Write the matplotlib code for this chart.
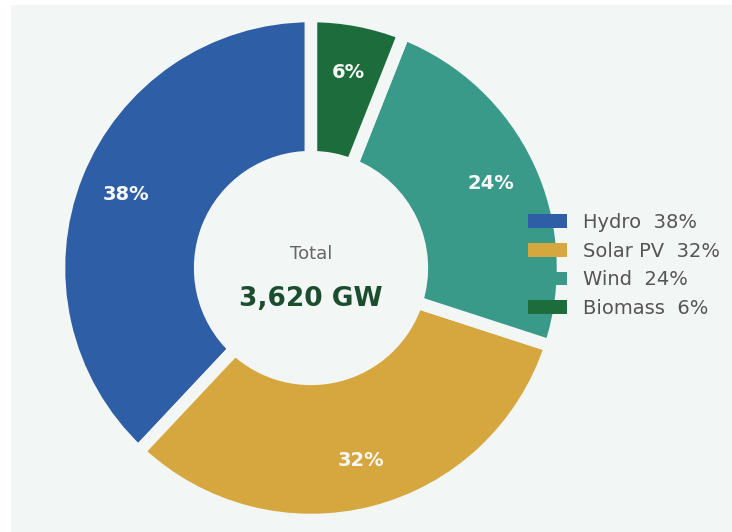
import matplotlib.pyplot as plt
from matplotlib.patches import Rectangle

sources = ["Hydro", "Solar PV", "Wind", "Biomass"]
shares = [38, 32, 24, 6]
colors = ["#2e5ea5", "#d6a73f", "#3a9a89", "#1c6c3c"]
total_label = "3,620 GW"

bg = "#f2f6f4"

fig = plt.figure(figsize=(7.32, 5.32), dpi=100, facecolor="white")
# light panel behind the chart (thin white strip on left and top)
fig.patches.append(Rectangle((11 / 732, 0), 1, (532 - 5) / 532, transform=fig.transFigure,
                             facecolor=bg, edgecolor="none", zorder=-1))

cx, cy, r = 311, 532 - 268, 252
ax = fig.add_axes([(cx - r) / 732, (cy - r) / 532, 2 * r / 732, 2 * r / 532])
ax.set_facecolor("none")
ax.set_zorder(1)

# gaps between slices come from thick edges in the background colour
wedges, texts, autotexts = ax.pie(shares, colors=colors, startangle=90, counterclock=True,
                                  autopct="%d%%", pctdistance=0.79,
                                  wedgeprops=dict(width=0.56, edgecolor=bg, linewidth=9),
                                  textprops=dict(color="#f7f7f7", fontsize=14, fontweight="bold"))
ax.set_xlim(-1, 1)
ax.set_ylim(-1, 1)
ax.set_aspect("equal")

ax.text(0, 0.055, "Total", ha="center", va="center", fontsize=13, color="#666666")
ax.text(0, -0.125, total_label, ha="center", va="center", fontsize=19, fontweight="bold", color="#1b4d2e")

labels = [s + "  " + str(v) + "%" for s, v in zip(sources, shares)]
leg = fig.legend(wedges, labels, loc="center left", bbox_to_anchor=(0.697, 0.501),
                 frameon=False, fontsize=14, handletextpad=0.85, labelspacing=0.5)
leg.set_zorder(2)
for t in leg.get_texts():
    t.set_color("#555555")
for h in leg.legend_handles:
    h.set_linewidth(0)

plt.savefig("out.png", dpi=100, facecolor=fig.get_facecolor())
